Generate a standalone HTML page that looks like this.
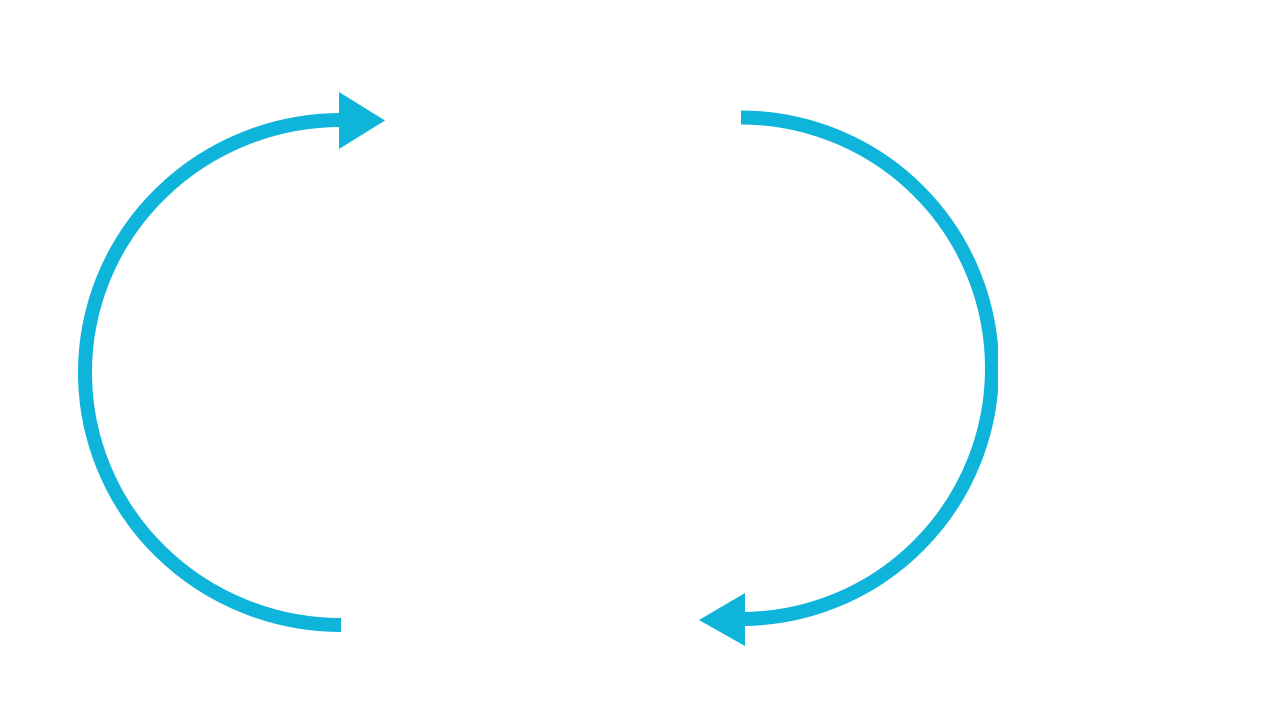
<!DOCTYPE html>
<html><head><style>html,body{margin:0;padding:0;background:#fff;width:1282px;height:712px;overflow:hidden}</style></head>
<body>
<svg width="1282" height="712" viewBox="0 0 1282 712" xmlns="http://www.w3.org/2000/svg">
<defs><clipPath id="c"><rect x="0" y="0" width="998" height="712"/></clipPath></defs>
<g fill="none" stroke="#0fb4da" stroke-width="14">
<path d="M341 120 A256 252.5 0 0 0 341 625"/>
<path clip-path="url(#c)" d="M741 117.5 A251 250.75 0 0 1 741 619 L746 619"/>
</g>
<g fill="#0fb4da">
<polygon points="339,92 385,120.5 339,149"/>
<polygon points="745,593 699,620 745,646"/>
</g>
</svg>
</body></html>
